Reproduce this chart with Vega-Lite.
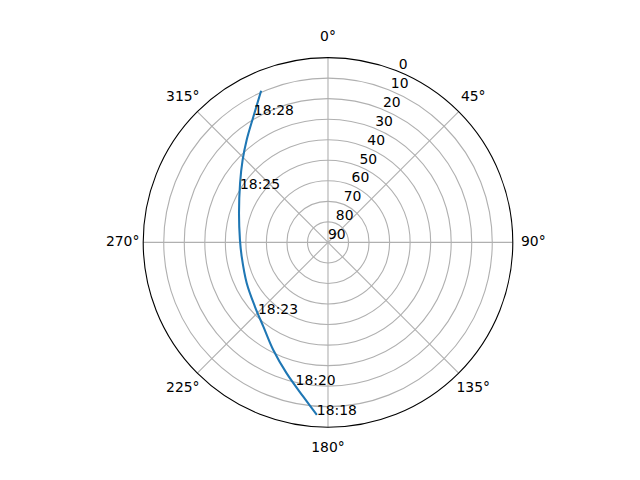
{
  "$schema": "https://vega.github.io/schema/vega-lite/v6.json",
  "width": 369.6,
  "height": 369.6,
  "autosize": {"type": "none"},
  "padding": {"left": 143.2, "top": 57.6, "right": 127.2, "bottom": 52.8},
  "background": "white",
  "config": {"view": {"stroke": null}, "font": "DejaVu Sans", "text": {"font": "DejaVu Sans", "fontSize": 13.9, "color": "black"}},
  "datasets": {
    "spokes": [{"az": 0}, {"az": 45}, {"az": 90}, {"az": 135}, {"az": 180}, {"az": 225}, {"az": 270}, {"az": 315}],
    "rings": [{"z": 10}, {"z": 20}, {"z": 30}, {"z": 40}, {"z": 50}, {"z": 60}, {"z": 70}, {"z": 80}],
    "spine": [{"z": 90}],
    "rlabels": [{"el": 0}, {"el": 10}, {"el": 20}, {"el": 30}, {"el": 40}, {"el": 50}, {"el": 60}, {"el": 70}, {"el": 80}, {"el": 90}],
    "tlabels": [{"az": 0, "label": "0°"}, {"az": 45, "label": "45°"}, {"az": 90, "label": "90°"}, {"az": 135, "label": "135°"}, {"az": 180, "label": "180°"}, {"az": 225, "label": "225°"}, {"az": 270, "label": "270°"}, {"az": 315, "label": "315°"}],
    "track": [
      {"i": 0, "az": 183.7, "el": 5.8},
      {"i": 1, "az": 189.1, "el": 13.9},
      {"i": 2, "az": 197.5, "el": 23.1},
      {"i": 3, "az": 206.95, "el": 31.2},
      {"i": 4, "az": 217.5, "el": 38.3},
      {"i": 5, "az": 228.6, "el": 42.6},
      {"i": 6, "az": 243.3, "el": 45.7},
      {"i": 7, "az": 260.6, "el": 47.4},
      {"i": 8, "az": 271.6, "el": 47.1},
      {"i": 9, "az": 288.1, "el": 44.4},
      {"i": 10, "az": 303.9, "el": 38.4},
      {"i": 11, "az": 314.0, "el": 32.2},
      {"i": 12, "az": 321.55, "el": 26.3},
      {"i": 13, "az": 329.3, "el": 18.8},
      {"i": 14, "az": 336.2, "el": 9.3}
    ],
    "times": [
      {"label": "18:18", "az": 183.7, "el": 5.8},
      {"label": "18:20", "az": 192.8, "el": 18.8},
      {"label": "18:23", "az": 224.35, "el": 41.2},
      {"label": "18:25", "az": 301.4, "el": 39.8},
      {"label": "18:28", "az": 329.8, "el": 18.2}
    ]
  },
  "layer": [
    {
      "data": {"name": "rings"},
      "mark": {"type": "point", "shape": "circle", "filled": false, "stroke": "#b0b0b0", "strokeWidth": 1.1, "opacity": 1},
      "encoding": {
        "x": {"datum": 0, "type": "quantitative", "scale": {"domain": [-90, 90], "nice": false, "zero": false}, "axis": null},
        "y": {"datum": 0, "type": "quantitative", "scale": {"domain": [-90, 90], "nice": false, "zero": false}, "axis": null},
        "size": {"field": "z", "type": "quantitative", "scale": {"type": "pow", "exponent": 2, "domain": [0, 90], "range": [0, 136604.16], "zero": true, "nice": false}, "legend": null}
      }
    },
    {
      "data": {"name": "spokes"},
      "transform": [
        {"calculate": "90*sin(datum.az*PI/180)", "as": "sx"},
        {"calculate": "90*cos(datum.az*PI/180)", "as": "sy"}
      ],
      "mark": {"type": "rule", "stroke": "#b0b0b0", "strokeWidth": 1.1},
      "encoding": {
        "x": {"field": "sx", "type": "quantitative"},
        "y": {"field": "sy", "type": "quantitative"},
        "x2": {"datum": 0},
        "y2": {"datum": 0}
      }
    },
    {
      "data": {"name": "track"},
      "transform": [
        {"calculate": "(90-datum.el)*sin(datum.az*PI/180)", "as": "px"},
        {"calculate": "(90-datum.el)*cos(datum.az*PI/180)", "as": "py"}
      ],
      "mark": {"type": "line", "color": "#1f77b4", "strokeWidth": 2.08, "interpolate": "catmull-rom"},
      "encoding": {
        "x": {"field": "px", "type": "quantitative"},
        "y": {"field": "py", "type": "quantitative"},
        "order": {"field": "i", "type": "quantitative"}
      }
    },
    {
      "data": {"name": "times"},
      "transform": [
        {"calculate": "(90-datum.el)*sin(datum.az*PI/180)", "as": "px"},
        {"calculate": "(90-datum.el)*cos(datum.az*PI/180)", "as": "py"}
      ],
      "mark": {"type": "text", "align": "left", "baseline": "alphabetic"},
      "encoding": {
        "x": {"field": "px", "type": "quantitative"},
        "y": {"field": "py", "type": "quantitative"},
        "text": {"field": "label"}
      }
    },
    {
      "data": {"name": "tlabels"},
      "transform": [
        {"calculate": "100*sin(datum.az*PI/180)", "as": "px"},
        {"calculate": "100*cos(datum.az*PI/180)", "as": "py"}
      ],
      "mark": {"type": "text", "align": "center", "baseline": "middle"},
      "encoding": {
        "x": {"field": "px", "type": "quantitative"},
        "y": {"field": "py", "type": "quantitative"},
        "text": {"field": "label"}
      }
    },
    {
      "data": {"name": "rlabels"},
      "transform": [
        {"calculate": "(90-datum.el)*sin(22.5*PI/180)", "as": "px"},
        {"calculate": "(90-datum.el)*cos(22.5*PI/180)", "as": "py"}
      ],
      "mark": {"type": "text", "align": "left", "baseline": "bottom"},
      "encoding": {
        "x": {"field": "px", "type": "quantitative"},
        "y": {"field": "py", "type": "quantitative"},
        "text": {"field": "el", "type": "quantitative"}
      }
    },
    {
      "data": {"name": "spine"},
      "mark": {"type": "point", "shape": "circle", "filled": false, "stroke": "black", "strokeWidth": 1.1, "opacity": 1},
      "encoding": {
        "x": {"datum": 0, "type": "quantitative"},
        "y": {"datum": 0, "type": "quantitative"},
        "size": {"field": "z", "type": "quantitative", "legend": null}
      }
    }
  ]
}
